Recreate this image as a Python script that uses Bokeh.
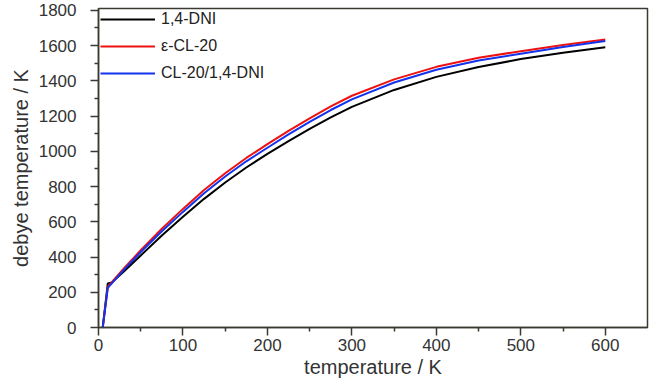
from bokeh.plotting import figure
from bokeh.embed import file_html
from bokeh.resources import INLINE
from bokeh.models import Legend, LegendItem, FixedTicker

# temperature / K
temp = [5, 11, 16, 30, 50, 75, 100, 125, 150, 175, 200, 225, 250, 275, 300,
        350, 400, 450, 500, 550, 600]
dni = [0, 250, 256, 318, 409, 522, 628, 730, 823, 908, 985, 1058, 1127, 1192, 1252,
       1348, 1422, 1478, 1523, 1559, 1590]
cl20 = [0, 232, 258, 335, 438, 560, 673, 780, 875, 962, 1040, 1116, 1187, 1255, 1315,
        1408, 1479, 1530, 1568, 1603, 1634]
cocrystal = [0, 225, 252, 327, 428, 546, 656, 762, 857, 943, 1020, 1096, 1167, 1234, 1294,
             1390, 1462, 1515, 1553, 1591, 1625]

series_names = ["1,4-DNI", "ε-CL-20", "CL-20/1,4-DNI"]
x_ticks = [0, 100, 200, 300, 400, 500, 600]
y_ticks = [0, 200, 400, 600, 800, 1000, 1200, 1400, 1600, 1800]

FONT = "Liberation Sans"
TXT = "#333333"
AX = "#3a3a30"

p = figure(width=654, height=385, x_range=(0, 650), y_range=(0, 1810),
           output_backend="svg", toolbar_location=None,
           min_border_left=98, min_border_right=7, min_border_top=8, min_border_bottom=58)
p.xgrid.visible = False
p.ygrid.visible = False
p.outline_line_color = AX
p.outline_line_width = 1.5
p.background_fill_color = "white"

r1 = p.line(temp, dni, line_color="black", line_width=2)
r2 = p.line(temp, cl20, line_color="#ee1111", line_width=2)
r3 = p.line(temp, cocrystal, line_color="#1133ee", line_width=2)

for ax, ticks, minor in ((p.xaxis[0], x_ticks, [50, 150, 250, 350, 450, 550]),
                         (p.yaxis[0], y_ticks, [100, 300, 500, 700, 900, 1100, 1300, 1500, 1700])):
    ax.ticker = FixedTicker(ticks=ticks, minor_ticks=minor)
    ax.axis_line_color = AX
    ax.axis_line_width = 1.5
    ax.major_tick_line_color = AX
    ax.minor_tick_line_color = AX
    ax.major_tick_line_width = 1.5
    ax.minor_tick_line_width = 1.5
    ax.major_tick_in = 0
    ax.minor_tick_in = 0
    ax.major_tick_out = 8
    ax.minor_tick_out = 4
    ax.major_label_text_font = FONT
    ax.major_label_text_font_size = "17px"
    ax.major_label_text_color = TXT
    ax.axis_label_text_font = FONT
    ax.axis_label_text_font_size = "20px"
    ax.axis_label_text_font_style = "normal"
    ax.axis_label_text_color = TXT

p.xaxis.axis_label = "temperature / K"
p.yaxis.axis_label = "debye temperature / K"
p.yaxis.major_label_standoff = 14
p.xaxis.major_label_standoff = 3
p.yaxis.axis_label_standoff = 4
p.xaxis.axis_label_standoff = 2

legend = Legend(items=[LegendItem(label=series_names[0], renderers=[r1]),
                       LegendItem(label=series_names[1], renderers=[r2]),
                       LegendItem(label=series_names[2], renderers=[r3])],
                location="top_left")
legend.margin = 2
legend.padding = 12
legend.spacing = 9
legend.glyph_width = 55
legend.glyph_height = 14
legend.label_height = 14
legend.label_standoff = 6
legend.label_text_font = FONT
legend.label_text_font_size = "16px"
legend.label_text_color = "#222222"
legend.background_fill_alpha = 0
legend.border_line_color = None
p.add_layout(legend)

open("out.html", "w").write(file_html(p, INLINE))
